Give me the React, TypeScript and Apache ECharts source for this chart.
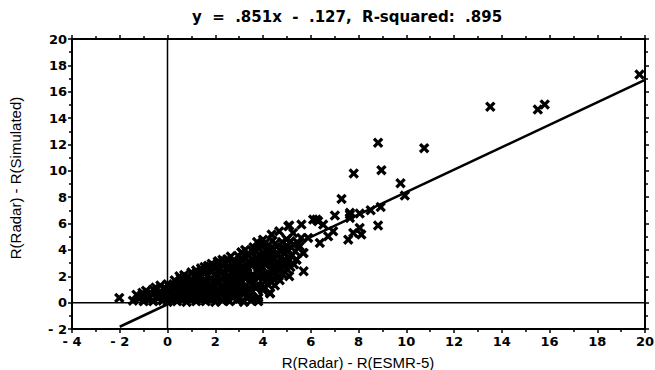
import { useEffect, useRef } from "react";
import * as echarts from "echarts";

// Least-squares fit reported in the heading
const SLOPE = 0.851;
const INTERCEPT = -0.127;
const TITLE = "y  =  .851x  -  .127,  R-squared:  .895";
const X_NAME = "R(Radar) - R(ESMR-5)";
const Y_NAME = "R(Radar) - R(Simulated)";

const X_MIN = -4;
const X_MAX = 20;
const Y_MIN = -2;
const Y_MAX = 20;
const TICK_STEP = 2;
const FIT_X = [-2, 20];

// Dense group of small differences near the origin
const cluster: [number, number][] = [
  [-1.45, 0.15], [-1.2, 0.3], [-1.0, 0.1], [-0.8, 0.25], [-0.6, 0.1], [-0.4, 0.3], [-0.2, 0.15], [0.0, 0.05],
  [0.2, 0.25], [0.4, 0.1], [0.6, 0.2], [0.8, 0.05], [1.0, 0.2], [1.2, 0.1], [1.4, 0.25], [1.6, 0.1],
  [1.8, 0.2], [2.0, 0.05], [2.3, 0.15], [2.6, 0.1], [2.9, 0.2], [3.2, 0.05], [3.5, 0.15], [3.8, 0.1],
  [-1.3, 0.6], [-1.05, 0.75], [-0.85, 0.5], [-0.65, 0.65], [-0.45, 0.45], [-0.25, 0.6], [-0.05, 0.5], [0.15, 0.7],
  [0.35, 0.45], [0.55, 0.6], [0.75, 0.4], [0.95, 0.65], [1.15, 0.5], [1.35, 0.7], [1.55, 0.45], [1.75, 0.6],
  [1.95, 0.5], [2.2, 0.65], [2.45, 0.4], [2.7, 0.6], [2.95, 0.45], [3.2, 0.7], [3.5, 0.5], [3.8, 0.4], [4.3, 0.7],
  [-0.9, 0.9], [-0.6, 1.0], [-0.3, 0.85], [-0.1, 1.1], [0.1, 0.9], [0.3, 1.05], [0.5, 0.85], [0.7, 1.1],
  [0.9, 0.95], [1.1, 0.8], [1.3, 1.05], [1.5, 0.9], [1.7, 1.1], [1.9, 0.85], [2.1, 1.0], [2.35, 0.9],
  [2.6, 1.1], [2.85, 0.85], [3.1, 1.0], [3.4, 0.9], [3.7, 1.1], [4.0, 0.95],
  [-0.3, 1.3], [0.0, 1.4], [0.25, 1.25], [0.45, 1.5], [0.65, 1.3], [0.85, 1.45], [1.05, 1.2], [1.25, 1.4],
  [1.45, 1.3], [1.65, 1.5], [1.85, 1.25], [2.05, 1.45], [2.3, 1.3], [2.55, 1.5], [2.8, 1.2], [3.05, 1.4],
  [3.3, 1.3], [3.6, 1.5], [3.9, 1.25], [4.2, 1.4], [4.5, 1.3],
  [0.3, 1.7], [0.55, 1.85], [0.8, 1.6], [1.0, 1.8], [1.2, 1.65], [1.4, 1.9], [1.6, 1.7], [1.8, 1.85],
  [2.0, 1.6], [2.25, 1.8], [2.5, 1.7], [2.75, 1.9], [3.0, 1.65], [3.25, 1.85], [3.5, 1.7], [3.8, 1.9],
  [4.1, 1.65], [4.4, 1.85], [4.7, 1.7],
  [0.7, 2.1], [1.0, 2.3], [1.3, 2.05], [1.55, 2.25], [1.8, 2.4], [2.0, 2.1], [2.3, 2.3], [2.55, 2.05],
  [2.8, 2.35], [3.05, 2.15], [3.3, 2.4], [3.6, 2.1], [3.9, 2.3], [4.2, 2.05], [4.5, 2.35], [4.8, 2.2], [5.1, 2.0],
  [1.4, 2.6], [1.7, 2.8], [2.0, 2.55], [2.3, 2.85], [2.6, 2.6], [2.9, 2.8], [3.2, 2.55], [3.5, 2.85],
  [3.8, 2.65], [4.1, 2.9], [4.4, 2.6], [4.7, 2.8], [5.0, 2.55], [5.3, 2.9],
  [2.1, 3.1], [2.5, 3.3], [2.8, 3.05], [3.1, 3.35], [3.4, 3.1], [3.7, 3.4], [4.0, 3.15], [4.3, 3.35],
  [4.6, 3.05], [4.9, 3.3], [5.4, 3.25],
  [3.1, 3.8], [3.4, 3.6], [3.7, 3.9], [4.0, 3.55], [4.3, 3.85], [4.6, 3.6], [4.9, 3.75], [5.2, 3.55], [5.7, 3.77],
  [3.6, 4.2], [3.9, 4.4], [4.2, 4.1], [4.5, 4.45], [4.8, 4.2], [5.0, 4.27], [5.3, 4.4], [5.54, 4.27],
];

// More cases packed between the ones above
const clusterInner: [number, number][] = [
  [-1.1, 0.45], [-0.75, 0.4], [-0.35, 0.75], [0.05, 0.3], [0.25, 0.55], [0.45, 0.8], [0.65, 0.25], [0.85, 0.8],
  [1.05, 0.35], [1.25, 0.6], [1.45, 0.85], [1.65, 0.3], [1.85, 0.7], [2.05, 0.35], [2.25, 0.8], [2.5, 0.25],
  [2.75, 0.8], [3.0, 0.3], [3.3, 0.45], [3.55, 0.85],
  [-0.5, 1.15], [-0.15, 0.7], [0.2, 1.15], [0.4, 1.3], [0.6, 1.6], [0.9, 1.25], [1.1, 1.55], [1.35, 1.15],
  [1.55, 1.6], [1.75, 1.35], [1.95, 1.15], [2.15, 1.6], [2.4, 1.15], [2.65, 1.35], [2.9, 1.55], [3.15, 1.15],
  [3.45, 1.6], [3.75, 1.3], [4.05, 1.15], [4.35, 1.55],
  [0.5, 2.0], [0.85, 1.95], [1.15, 1.95], [1.45, 2.4], [1.7, 2.05], [2.15, 2.45], [2.4, 1.95], [2.7, 2.2],
  [2.95, 1.95], [3.2, 2.25], [3.45, 1.95], [3.75, 2.45], [4.05, 2.15], [4.35, 2.45], [4.65, 2.0],
  [1.2, 2.45], [1.55, 2.7], [1.85, 2.95], [2.15, 2.7], [2.45, 2.95], [2.75, 2.7], [3.05, 2.95], [3.35, 2.7],
  [3.65, 3.0], [3.95, 2.75], [4.25, 3.0], [4.55, 2.75], [4.85, 3.0], [5.15, 2.7],
  [2.3, 3.25], [2.65, 3.5], [2.95, 3.55], [3.25, 3.45], [3.55, 3.25], [3.85, 3.6], [4.15, 3.45], [4.45, 3.25],
  [4.75, 3.45], [5.05, 3.1],
  [3.25, 4.0], [3.55, 3.95], [3.85, 4.1], [4.15, 3.9], [4.45, 4.05], [4.75, 3.9], [5.05, 4.0], [5.35, 3.9],
  [3.75, 4.6], [4.1, 4.55], [4.4, 4.7], [4.8, 4.6], [5.15, 4.65], [5.45, 4.55],
];

// Scattered cases further out along the fit
const spread: [number, number][] = [
  [-2.02, 0.36], [4.29, 0.74], [3.8, 0.36], [5.7, 2.38], [5.4, 3.26], [5.68, 3.77], [4.71, 2.51],
  [2.13, 3.14], [3.1, 3.82], [4.0, 4.78], [4.36, 5.16], [4.68, 5.41], [4.99, 4.8], [5.26, 5.29], [5.6, 4.9],
  [5.89, 4.91], [6.38, 4.53], [6.73, 5.03], [6.94, 5.41], [5.06, 5.8], [5.1, 5.85], [5.61, 5.92], [6.31, 6.17],
  [6.24, 6.3], [6.52, 5.92], [6.1, 6.3], [7.01, 6.61], [7.64, 6.68], [7.64, 6.43], [8.05, 6.76], [8.51, 7.01],
  [8.93, 7.26], [7.29, 7.87], [7.64, 6.81], [8.82, 5.85], [8.05, 5.67], [8.12, 5.16], [7.78, 5.29], [7.57, 4.78],
  [9.94, 8.12], [9.76, 9.06], [7.8, 9.8], [8.96, 10.05], [8.82, 12.13], [10.75, 11.72], [13.52, 14.86],
  [15.51, 14.65], [15.8, 15.03], [19.77, 17.31],
];

const NAME_FONT = "'Liberation Sans', Arial, Helvetica, sans-serif";
const BOLD_FONT = "'DejaVu Sans', Verdana, sans-serif";
const CROSS = "path://M0,2.2L2.2,0L5,2.8L7.8,0L10,2.2L7.2,5L10,7.8L7.8,10L5,7.2L2.2,10L0,7.8L2.8,5Z";

const fmt = (v: number) => (v < 0 ? "- " + Math.abs(v) : String(v));

function axisBase(showLabels: boolean, margin: number) {
  return {
    type: "value" as const,
    interval: TICK_STEP,
    axisLine: { show: true, onZero: false, lineStyle: { color: "#000", width: 2 } },
    axisTick: { show: true, inside: false, length: 4, lineStyle: { color: "#000", width: 1.5 } },
    minorTick: { show: true, splitNumber: 2, length: 3, lineStyle: { color: "#000", width: 1.5 } },
    splitLine: { show: false },
    axisLabel: {
      show: showLabels,
      margin,
      color: "#000",
      fontFamily: BOLD_FONT,
      fontWeight: "bold" as const,
      fontSize: 13,
      formatter: fmt,
      showMinLabel: true,
      showMaxLabel: true,
    },
  };
}

export default function App() {
  const ref = useRef<HTMLDivElement>(null);

  useEffect(() => {
    if (!ref.current) return;
    const chart = echarts.init(ref.current, null, { renderer: "svg" });
    const fit = FIT_X.map((x) => [x, SLOPE * x + INTERCEPT]);
    chart.setOption({
      animation: false,
      backgroundColor: "#fff",
      grid: { left: 72, right: 10, top: 39, bottom: 41, containLabel: false, outerBoundsMode: "none" },
      xAxis: [
        { ...axisBase(true, 6), min: X_MIN, max: X_MAX, position: "bottom" },
        { ...axisBase(false, 6), min: X_MIN, max: X_MAX, position: "top" },
      ],
      yAxis: [
        { ...axisBase(true, 5), min: Y_MIN, max: Y_MAX, position: "left" },
        { ...axisBase(false, 5), min: Y_MIN, max: Y_MAX, position: "right" },
      ],
      graphic: [
        {
          type: "text",
          x: 347,
          y: 17,
          style: { text: TITLE, fill: "#000", font: `bold 15px ${BOLD_FONT}`, textAlign: "center", textVerticalAlign: "middle" },
        },
        {
          type: "text",
          x: 358,
          y: 362,
          style: { text: X_NAME, fill: "#000", font: `15px ${NAME_FONT}`, textAlign: "center", textVerticalAlign: "middle" },
        },
        {
          type: "text",
          x: 15,
          y: 178,
          rotation: Math.PI / 2,
          style: { text: Y_NAME, fill: "#000", font: `15px ${NAME_FONT}`, textAlign: "center", textVerticalAlign: "middle" },
        },
      ],
      series: [
        {
          type: "line",
          data: [[0, Y_MIN], [0, Y_MAX]],
          symbol: "none",
          silent: true,
          lineStyle: { color: "#000", width: 1.5 },
        },
        {
          type: "line",
          data: [[X_MIN, 0], [X_MAX, 0]],
          symbol: "none",
          silent: true,
          lineStyle: { color: "#000", width: 1.5 },
        },
        {
          type: "scatter",
          data: [...cluster, ...clusterInner, ...spread],
          symbol: CROSS,
          symbolSize: 10.5,
          itemStyle: { color: "#000", opacity: 1 },
        },
        {
          type: "line",
          data: fit,
          symbol: "none",
          lineStyle: { color: "#000", width: 2.5 },
        },
      ],
    });
    return () => chart.dispose();
  }, []);

  return <div ref={ref} style={{ position: "fixed", left: 0, top: 0, width: 655, height: 370 }} />;
}
